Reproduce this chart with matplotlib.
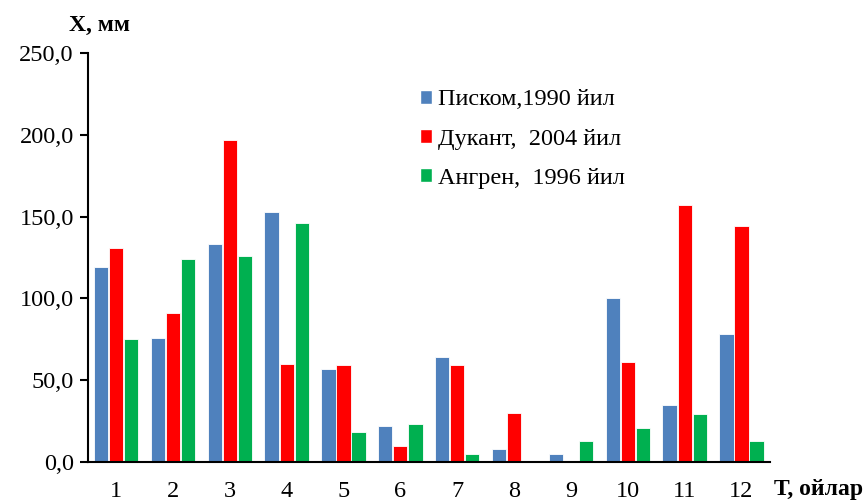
import matplotlib
matplotlib.use("Agg")
import matplotlib.pyplot as plt
import numpy as np
from matplotlib.patches import Patch

plt.rcParams['font.family'] = ['Liberation Serif', 'DejaVu Serif']

months = ["1", "2", "3", "4", "5", "6", "7", "8", "9", "10", "11", "12"]
piskom = [119, 76, 133, 153, 57, 22, 64, 8, 5, 100, 35, 78]
dukant = [131, 91, 197, 60, 59, 10, 59, 30, 0, 61, 157, 144]
angren = [75, 124, 126, 146, 18, 23, 5, 0, 13, 21, 29, 13]
series_names = ["Писком,1990 йил", "Дукант,  2004 йил", "Ангрен,  1996 йил"]
colors = ["#4F81BD", "#FF0000", "#00B050"]

fig = plt.figure(figsize=(8.68, 5.01), dpi=100)
ax = fig.add_axes([0.101, 0.078, 0.786, 0.816])

x = np.arange(1, len(months) + 1)
w = 0.25
off = 0.265
for i, (vals, c) in enumerate(zip([piskom, dukant, angren], colors)):
    ax.bar(x + (i - 1) * off, vals, width=w, color=c, edgecolor='white', linewidth=0.6)

ax.set_xlim(0.5, 12.5)
ax.set_ylim(0, 250)
ax.set_yticks([0, 50, 100, 150, 200, 250])
ax.set_yticklabels(["0,0", "50,0", "100,0", "150,0", "200,0", "250,0"])
ax.set_xticks(x)
ax.set_xticklabels(months)
ax.tick_params(axis='x', length=0, pad=14, labelsize=17.5)
ax.tick_params(axis='y', length=6, width=1.5, direction='out', labelsize=17.5, pad=4)
for s in ['top', 'right']:
    ax.spines[s].set_visible(False)
ax.spines['left'].set_linewidth(1.5)
ax.spines['bottom'].set_linewidth(1.5)

handles = [Patch(facecolor=c, edgecolor='white') for c in colors]
ax.legend(handles, series_names, loc='upper left', bbox_to_anchor=(0.455, 0.965),
          frameon=False, fontsize=17.5, handlelength=0.5, handleheight=0.5,
          handletextpad=0.25, labelspacing=0.75)

fig.text(0.080, 0.950, "Х, мм", fontsize=17, fontweight='bold', ha='left', va='center')
fig.text(0.892, 0.022, "Т, ойлар", fontsize=17, fontweight='bold', ha='left', va='center')

fig.savefig("out.png", dpi=100)
